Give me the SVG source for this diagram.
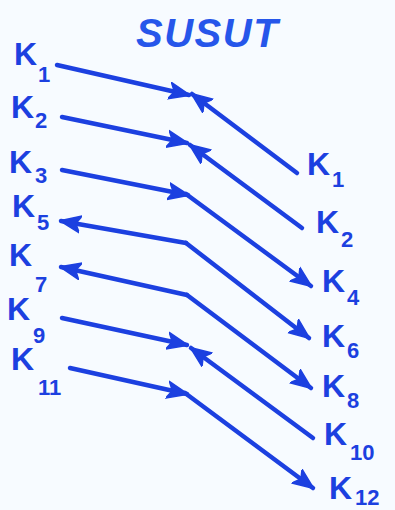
<svg xmlns="http://www.w3.org/2000/svg" width="395" height="510" viewBox="0 0 395 510">
<style>
.lbl{font-family:"Liberation Sans",Arial,sans-serif;font-weight:bold;font-size:32px;fill:#1c40e0}
.sub{font-size:22px}
.title{font-family:"Liberation Sans",Arial,sans-serif;font-weight:bold;font-style:italic;font-size:40px;fill:#2656ea;letter-spacing:1.5px}
.ln{stroke:#1c40e0;stroke-width:4.5;fill:none;stroke-linecap:round}
.arr{marker-end:url(#ah)}
</style>
<defs>
<marker id="ah" markerUnits="userSpaceOnUse" markerWidth="24" markerHeight="22" refX="20" refY="11" orient="auto">
<path d="M0,2.5 L21,11 L0,19.5 L5,11 Z" fill="#1c40e0" stroke="#1c40e0" stroke-width="1.5" stroke-linejoin="round"/>
</marker>
</defs>
<rect width="395" height="510" fill="#f7fbff"/>
<g id="title"><text class="title" x="136" y="47">SUSUT</text></g>
<g id="left-k1"><text class="lbl" x="14" y="65">K<tspan class="sub" x="38" y="82">1</tspan></text></g>
<g id="left-k2"><text class="lbl" x="11" y="118">K<tspan class="sub" x="35" y="128">2</tspan></text></g>
<g id="left-k3"><text class="lbl" x="9" y="173">K<tspan class="sub" x="35" y="183">3</tspan></text></g>
<g id="left-k5"><text class="lbl" x="12" y="217">K<tspan class="sub" x="37" y="230">5</tspan></text></g>
<g id="left-k7"><text class="lbl" x="9" y="266">K<tspan class="sub" x="35" y="292">7</tspan></text></g>
<g id="left-k9"><text class="lbl" x="7" y="320">K<tspan class="sub" x="33" y="343">9</tspan></text></g>
<g id="left-k11"><text class="lbl" x="11" y="370">K<tspan class="sub" x="38" y="395">11</tspan></text></g>
<g id="right-k1"><text class="lbl" x="307" y="175">K<tspan class="sub" x="332" y="187">1</tspan></text></g>
<g id="right-k2"><text class="lbl" x="316" y="233">K<tspan class="sub" x="341" y="247">2</tspan></text></g>
<g id="right-k4"><text class="lbl" x="322" y="292">K<tspan class="sub" x="347" y="305">4</tspan></text></g>
<g id="right-k6"><text class="lbl" x="322" y="347">K<tspan class="sub" x="347" y="358">6</tspan></text></g>
<g id="right-k8"><text class="lbl" x="322" y="397">K<tspan class="sub" x="347" y="408">8</tspan></text></g>
<g id="right-k10"><text class="lbl" x="324" y="445">K<tspan class="sub" x="350" y="460">10</tspan></text></g>
<g id="right-k12"><text class="lbl" x="329" y="499">K<tspan class="sub" x="355" y="505">12</tspan></text></g>
<g id="connectors">
<line class="ln arr" x1="57" y1="65" x2="189" y2="95"/>
<line class="ln arr" x1="297" y1="173" x2="192" y2="94"/>
<line class="ln arr" x1="62" y1="117" x2="187" y2="143"/>
<line class="ln arr" x1="302" y1="228" x2="190" y2="145"/>
<line class="ln arr" x1="62" y1="170" x2="188" y2="195"/>
<line class="ln arr" x1="186" y1="194" x2="311" y2="286"/>
<line class="ln arr" x1="186" y1="243" x2="61" y2="221"/>
<line class="ln arr" x1="186" y1="243" x2="309" y2="338"/>
<line class="ln arr" x1="187" y1="295" x2="61" y2="267"/>
<line class="ln arr" x1="187" y1="295" x2="311" y2="388"/>
<line class="ln arr" x1="62" y1="318" x2="187" y2="345"/>
<line class="ln arr" x1="313" y1="438" x2="191" y2="348"/>
<line class="ln arr" x1="70" y1="368" x2="187" y2="394"/>
<line class="ln arr" x1="185" y1="393" x2="313" y2="488"/>
</g>
</svg>
